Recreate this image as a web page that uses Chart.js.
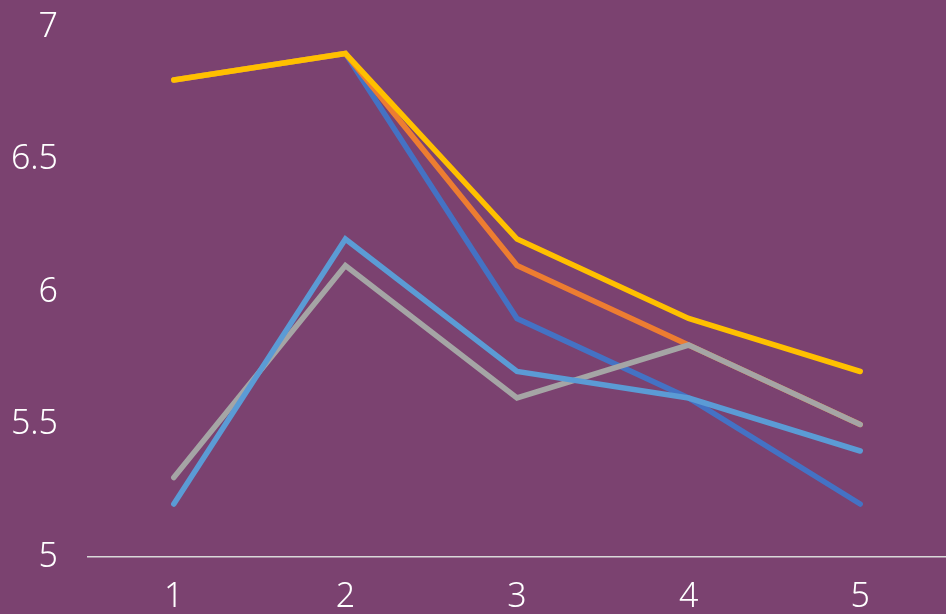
<!DOCTYPE html>
<html>
<head>
<meta charset="utf-8">
<script src="https://cdn.jsdelivr.net/npm/chart.js@4/dist/chart.umd.min.js"></script>
<style>
  html, body { margin: 0; padding: 0; background: #7B4270; }
  #wrap { width: 946px; height: 614px; }
</style>
</head>
<body>
<div id="wrap"><canvas id="c" width="946" height="614"></canvas></div>
<script>
const categories = ['1', '2', '3', '4', '5'];
const series1 = [6.8, 6.9, 5.9, 5.6, 5.2];
const series2 = [6.8, 6.9, 6.1, 5.8, 5.5];
const series3 = [5.3, 6.1, 5.6, 5.8, 5.5];
const series4 = [6.8, 6.9, 6.2, 5.9, 5.7];
const series5 = [5.2, 6.2, 5.7, 5.6, 5.4];
const yTicks = [5, 5.5, 6, 6.5, 7];
const yTickLabels = ['5', '5.5', '6', '6.5', '7'];

const seriesList = [
  { label: '系列1', data: series1, color: '#4472C4' },
  { label: '系列2', data: series2, color: '#ED7D31' },
  { label: '系列3', data: series3, color: '#A5A5A5' },
  { label: '系列4', data: series4, color: '#FFC000' },
  { label: '系列5', data: series5, color: '#5B9BD5' }
];

const tickFont = { family: '"Noto Sans", sans-serif', size: 34, weight: '300' };

new Chart(document.getElementById('c'), {
  type: 'line',
  data: {
    labels: categories,
    datasets: seriesList.map((s, i) => ({
      label: s.label,
      data: s.data,
      borderColor: s.color,
      backgroundColor: s.color,
      borderWidth: 5.5,
      borderCapStyle: 'round',
      borderJoinStyle: 'miter',
      pointRadius: 0,
      tension: 0,
      fill: false,
      order: seriesList.length - i
    }))
  },
  options: {
    responsive: false,
    animation: false,
    layout: { padding: 0 },
    plugins: { legend: { display: false }, tooltip: { enabled: false } },
    scales: {
      x: {
        offset: true,
        grid: { display: false, drawTicks: false },
        border: { display: true, color: '#D9D9D9', width: 1.5 },
        ticks: { color: '#FFFFFF', font: tickFont, padding: 20, maxRotation: 0 },
        afterFit: (s) => { s.height = 57; }
      },
      y: {
        min: 5,
        max: 7,
        afterBuildTicks: (s) => { s.ticks = yTicks.map(v => ({ value: v })); },
        grid: { display: false, drawTicks: false },
        border: { display: false },
        ticks: {
          color: '#FFFFFF',
          font: tickFont,
          padding: 30,
          callback: (v) => yTickLabels[yTicks.indexOf(v)]
        },
        afterFit: (s) => { s.width = 88; s.paddingTop = 27; s.paddingBottom = 0; }
      }
    }
  }
});
</script>
</body>
</html>
